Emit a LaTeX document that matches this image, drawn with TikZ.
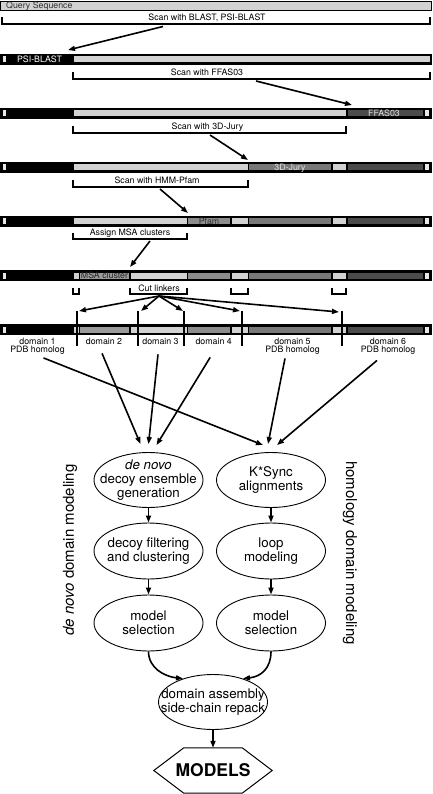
\documentclass[tikz,border=0pt]{standalone}
\usepackage{fontspec}
\setmainfont{TeX Gyre Heros}
\usetikzlibrary{arrows.meta,shapes.geometric}
\definecolor{linker}{HTML}{D2D2D2}
\definecolor{endcap}{HTML}{E8E8E8}
\definecolor{ffascol}{HTML}{4B4B4B}
\definecolor{jurycol}{HTML}{787878}
\definecolor{pfamcol}{HTML}{8C8C8C}
\definecolor{msacol}{HTML}{9A9A9A}

\begin{document}
\begin{tikzpicture}[x=1pt,y=-1pt,
	lbl/.style={font=\fontsize{8.8}{8.6}\selectfont, inner sep=0pt},
	task/.style={draw, ellipse, line width=0.9pt, minimum width=109pt, minimum height=55pt, inner sep=-18pt, align=center, font=\fontsize{13.3}{14}\selectfont},
	arr/.style={-{Triangle[length=7pt,width=5pt]}, line width=1.6pt},
	brk/.style={line width=1.6pt},
	cutline/.style={line width=2pt}]
	\useasboundingbox (0,0) rectangle (432,794);

	% query sequence
	\draw[line width=0.8pt, fill=linker] (0.5,1.5) rectangle (431.5,10);
	\node[lbl, anchor=base west, text=black!80] (query) at (6,8.3) {Query Sequence};

	% bars
	\foreach \y in {54,108,162,216,270,324} {
		\fill (0,\y) rectangle (432,\y+11);
		\fill[endcap] (3,\y+2.5) rectangle (6,\y+8.5);
	}
	\foreach \y in {108,162,216,270,324}
		\fill[endcap] (424.5,\y+2.5) rectangle (428.5,\y+8.5);

	\fill[linker] (73.5,56.5) rectangle (429.5,62.5);
	\fill[linker] (73.5,110.5) rectangle (346,116.5);
	\fill[linker] (73.5,164.5) rectangle (248,170.5);
	\fill[linker] (73.5,218.5) rectangle (187,224.5);
	\foreach \y in {108,162,216,270,324}
		\fill[ffascol] (347.5,\y+2.5) rectangle (422.5,\y+8.5);
	\foreach \y in {162,216,270,324} {
		\fill[jurycol] (249,\y+2.5) rectangle (331,\y+8.5);
		\fill[linker] (332.5,\y+2.5) rectangle (345.5,\y+8.5);
	}
	\foreach \y in {216,270,324} {
		\fill[pfamcol] (188,\y+2.5) rectangle (230,\y+8.5);
		\fill[linker] (231.5,\y+2.5) rectangle (248,\y+8.5);
	}
	\foreach \y in {270,324} {
		\fill[linker] (73.5,\y+2.5) rectangle (78.5,\y+8.5);
		\fill[msacol] (79.5,\y+2.5) rectangle (129,\y+8.5);
		\fill[linker] (130.5,\y+2.5) rectangle (187,\y+8.5);
	}

	\node[lbl, anchor=base, text=white] (psi) at (39.5,62.7) {PSI-BLAST};
	\node[lbl, anchor=base, text=black!12] (ffas) at (384,116.7) {FFAS03};
	\node[lbl, anchor=base, text=black!12] (jury) at (290,170.7) {3D-Jury};
	\node[lbl, anchor=base, text=black!80] (pfam) at (209,224.7) {Pfam};
	\node[lbl, anchor=base, text=black!85] (msa) at (104.5,278.7) {MSA cluster};

	% scans
	\draw[brk] (2,17.5) |- (430,24) -- (430,17.5);
	\node[lbl, anchor=base] (blast) at (207,21) {Scan with BLAST, PSI-BLAST};
	\draw[brk] (73,72.5) |- (430,79) -- (430,72.5);
	\node[lbl, anchor=base] (scanffas) at (207,76) {Scan with FFAS03};
	\draw[brk] (73,126.5) |- (346,133) -- (346,126.5);
	\node[lbl, anchor=base] (scanjury) at (207.5,130) {Scan with 3D-Jury};
	\draw[brk] (73,180.5) |- (248,187) -- (248,180.5);
	\node[lbl, anchor=base] (scanpfam) at (157,184) {Scan with HMM-Pfam};
	\draw[brk] (73,232.5) |- (187,239) -- (187,232.5);
	\node[lbl, anchor=base] (assign) at (130,236) {Assign MSA clusters};

	\coordinate (blastout) at (163,26.5);
	\coordinate (psihit) at (68,50);
	\coordinate (ffasout) at (256,81);
	\coordinate (ffashit) at (352,105);
	\coordinate (juryout) at (210,135);
	\coordinate (juryhit) at (248,160);
	\coordinate (pfamout) at (160,189);
	\coordinate (pfamhit) at (188,213);
	\coordinate (msaout) at (150,241);
	\coordinate (msahit) at (130,267);
	\draw[arr] (blastout) -- (psihit);
	\draw[arr] (ffasout) -- (ffashit);
	\draw[arr] (juryout) -- (juryhit);
	\draw[arr] (pfamout) -- (pfamhit);
	\draw[arr] (msaout) -- (msahit);

	% linkers
	\foreach \a/\b in {73/79, 130/187, 231/248, 332/346}
		\draw[brk] (\a,288) |- (\b,294) -- (\b,288);
	\node[lbl, anchor=base] (cutl) at (159,291) {Cut linkers};
	\coordinate (cuts) at (159,296);
	\foreach \x [count=\i] in {77,138,184,242,342} {
		\draw[cutline] (\x,311) -- (\x,346);
		\coordinate (c\i) at (\x,311);
	}
	\draw[arr] (cuts) -- ([xshift=2pt]c1);
	\draw[arr] (cuts) -- ([xshift=3pt]c2);
	\draw[arr] (cuts) -- ([xshift=-1pt]c3);
	\draw[arr] (cuts) -- ([xshift=-2pt]c4);
	\draw[arr] (cuts) -- ([xshift=-3pt,yshift=-1pt]c5);

	% domains
	\node[lbl, anchor=north, align=center] (d1) at (37.5,337.6) {domain 1\\PDB homolog};
	\node[lbl, anchor=base] (d2) at (104,344) {domain 2};
	\node[lbl, anchor=base] (d3) at (160.5,344) {domain 3};
	\node[lbl, anchor=base] (d4) at (213.7,344) {domain 4};
	\node[lbl, anchor=north, align=center] (d5) at (292.5,337.6) {domain 5\\PDB homolog};
	\node[lbl, anchor=north, align=center] (d6) at (388,337.6) {domain 6\\PDB homolog};

	% modeling
	\node[task] (gen) at (148.5,480) {\textit{de novo}\\decoy ensemble\\generation};
	\node[task] (ksync) at (271,480) {K*Sync\\alignments};
	\node[task, minimum height=56pt] (filt) at (148.5,551) {decoy filtering\\and clustering};
	\node[task, minimum height=56pt] (loop) at (271,551) {loop\\modeling};
	\node[task, minimum height=56pt] (selL) at (148.5,623) {model\\selection};
	\node[task, minimum height=56pt] (selR) at (271,623) {model\\selection};
	\node[task] (asm) at (213,702) {domain assembly\\side-chain repack};
	\node[minimum width=118pt, minimum height=45pt, inner sep=0pt, font=\fontsize{17.5}{20}\selectfont\bfseries] (models) at (213,770.5) {MODELS};
	\draw[line width=1pt] (models.west) -- ([xshift=30pt]models.north west) -- ([xshift=-30pt]models.north east)
		-- (models.east) -- ([xshift=-30pt]models.south east) -- ([xshift=30pt]models.south west) -- cycle;

	\node[rotate=90, font=\fontsize{15}{18}\selectfont] (denovo) at (70,550) {\textit{de novo} domain modeling};
	\node[rotate=-90, font=\fontsize{15}{18}\selectfont] (homology) at (350,553) {homology domain modeling};

	\draw[arr] ([shift={(6,3)}]d1.south) -- ([shift={(-8,-7)}]ksync.north);
	\draw[arr] ([shift={(-2,9)}]d2.south) -- ([shift={(-8,-8)}]gen.north);
	\draw[arr] ([shift={(-2.5,10)}]d3.south) -- ([shift={(0,-8)}]gen.north);
	\draw[arr] ([shift={(-3.5,13)}]d4.south) -- ([shift={(8,-7)}]gen.north);
	\draw[arr] ([shift={(-7.5,3.5)}]d5.south) -- ([shift={(-3,-8)}]ksync.north);
	\draw[arr] ([shift={(-11,5.5)}]d6.south) -- ([shift={(6,-7)}]ksync.north);

	\draw[arr] (gen) -- (filt);
	\draw[arr] (filt) -- (selL);
	\draw[arr] (ksync) -- (loop);
	\draw[arr] (loop) -- (selR);
	\draw[arr] (selL.south) .. controls +(0,17) and +(-18,-2) .. (asm.142);
	\draw[arr] (selR.south) .. controls +(0,17) and +(18,-2) .. (asm.38);
	\draw[arr] (asm) -- (models);
\end{tikzpicture}
\end{document}
